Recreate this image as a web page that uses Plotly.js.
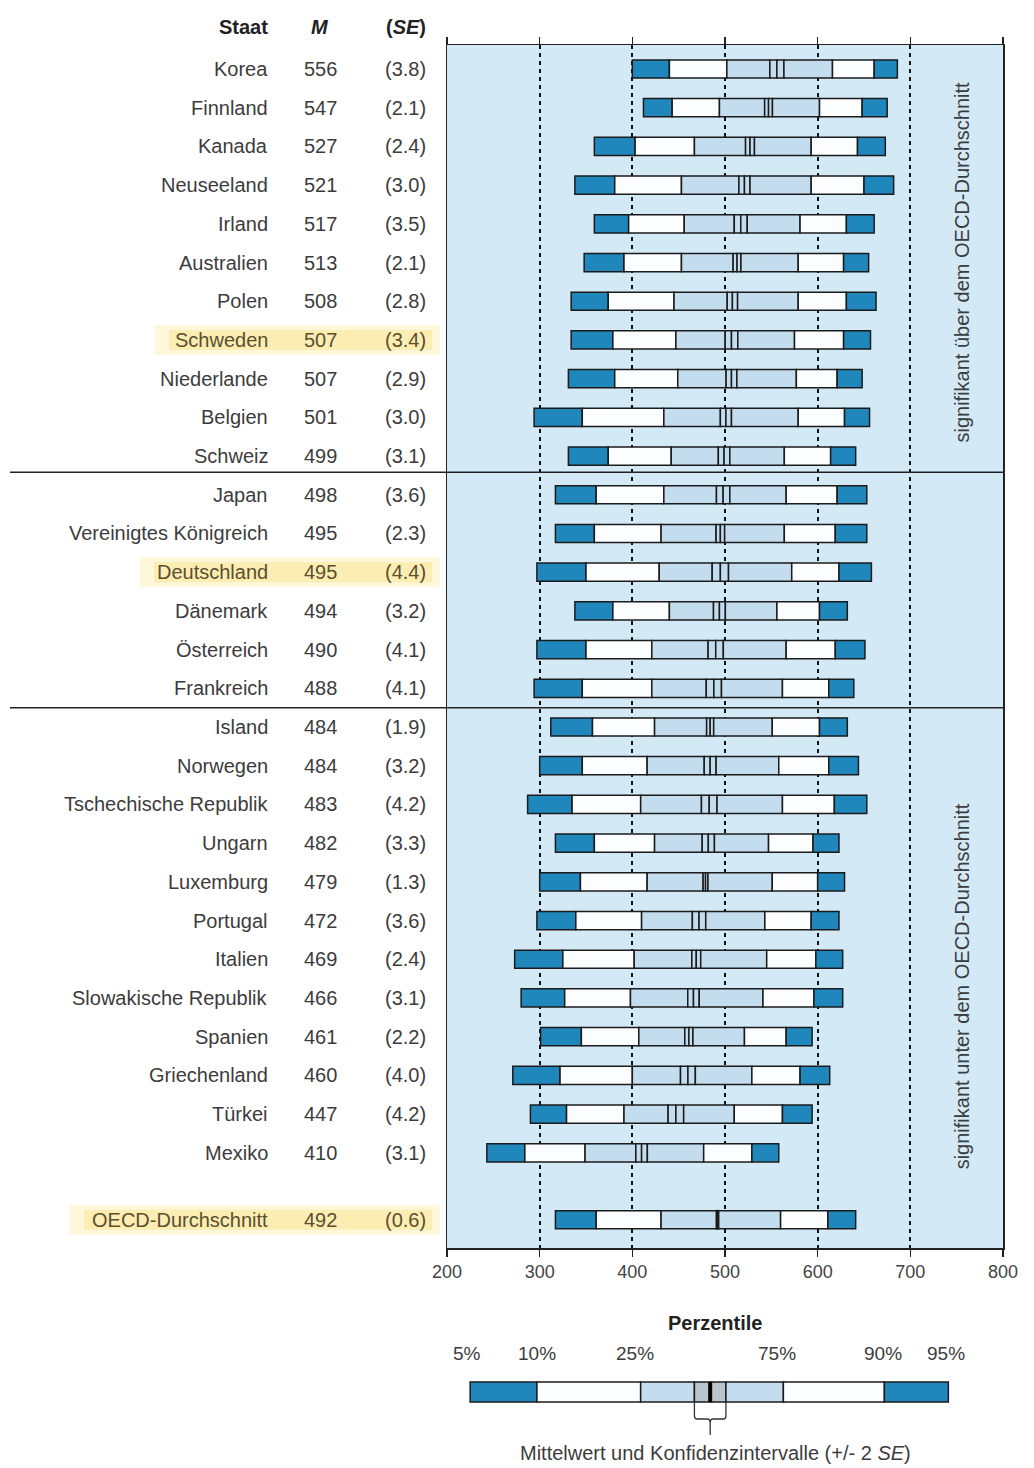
<!DOCTYPE html>
<html><head><meta charset="utf-8">
<script src="https://cdn.plot.ly/plotly-3.0.1.min.js"></script>
<style>body{margin:0;background:#fff}#chart{width:1034px;height:1468px}</style>
</head><body><div id="chart"></div>
<script>
const countries = ["Korea","Finnland","Kanada","Neuseeland","Irland","Australien","Polen","Schweden","Niederlande","Belgien","Schweiz","Japan","Vereinigtes Königreich","Deutschland","Dänemark","Österreich","Frankreich","Island","Norwegen","Tschechische Republik","Ungarn","Luxemburg","Portugal","Italien","Slowakische Republik","Spanien","Griechenland","Türkei","Mexiko","OECD-Durchschnitt"];
const meanM = [556,547,527,521,517,513,508,507,507,501,499,498,495,495,494,490,488,484,484,483,482,479,472,469,466,461,460,447,410,492];
const seM  = [3.8,2.1,2.4,3.0,3.5,2.1,2.8,3.4,2.9,3.0,3.1,3.6,2.3,4.4,3.2,4.1,4.1,1.9,3.2,4.2,3.3,1.3,3.6,2.4,3.1,2.2,4.0,4.2,3.1,0.6];
const p5  = [400,412,359,338,359,348,334,334,331,294,331,317,317,297,338,297,294,312,300,287,317,300,297,273,280,301,271,290,243,317];
const p10 = [440,443,403,381,396,391,374,379,381,346,374,361,359,350,379,350,346,357,346,335,359,344,339,325,327,345,322,329,284,361];
const p25 = [502,494,467,453,456,453,445,447,449,434,442,434,431,429,440,421,421,424,416,409,424,416,410,402,398,407,400,391,349,431];
const p75 = [616,602,593,593,581,579,579,575,577,579,564,566,564,572,556,566,562,551,558,562,547,551,543,545,541,521,529,510,477,560];
const p90 = [661,648,643,650,631,628,631,628,621,629,614,621,619,623,602,619,612,602,612,618,595,600,593,598,596,566,581,562,529,611];
const p95 = [686,675,673,682,661,655,663,657,648,656,641,653,653,658,632,651,639,632,644,653,623,629,623,627,627,594,613,594,558,641];
const highlighted = ["Schweden","Deutschland","OECD-Durchschnitt"];
const xTicks = [200,300,400,500,600,700,800];
// legend schematic (score scale positions)
const legendBounds = [225,297,409,467,484,501,563,672,741];
const legendLabels = ["5%","10%","25%","75%","90%","95%"];
const legendLabelAt = [222,297,403,556,670,738];

const W=1034,H=1468;
const rowY = countries.map((c,i)=> i<29 ? i : 29.73);
const ciLo = meanM.map((m,i)=>m-2*seM[i]);
const ciHi = meanM.map((m,i)=>m+2*seM[i]);
const DARK='#1f87bb', LIGHT='#c3dcee', WHITE='#fbfdff', CI='#c3dcee', LINE='#1b1b1b';
const segs = [
  [p5,p10,DARK],[p10,p25,WHITE],[p25,ciLo,LIGHT],[ciLo,meanM,CI],[meanM,ciHi,CI],[ciHi,p75,LIGHT],[p75,p90,WHITE],[p90,p95,DARK]
];
const traces = segs.map(([a,b,col])=>({
  type:'bar', orientation:'h', y:rowY, base:a, x:b.map((v,i)=>v-a[i]),
  width:0.47, marker:{color:col,line:{color:LINE,width:1.5}}, hoverinfo:'skip', showlegend:false
}));

const py = v => 1 - v/H;
const shapes = [];
const annotations = [];
// highlight glows
countries.forEach((c,i)=>{
  if(highlighted.includes(c)){
    const left = c==="OECD-Durchschnitt" ? 70 : (c==="Deutschland"?140:155);
    shapes.push({type:'rect',xref:'paper',yref:'y',x0:left/W,x1:440/W,y0:rowY[i]-0.38,y1:rowY[i]+0.38,fillcolor:'rgba(252,238,170,0.45)',line:{width:0},layer:'below'});
    shapes.push({type:'rect',xref:'paper',yref:'y',x0:(left+14)/W,x1:432/W,y0:rowY[i]-0.26,y1:rowY[i]+0.26,fillcolor:'rgba(250,228,140,0.5)',line:{width:0},layer:'below'});
  }
});
// separators
[10.42,16.5].forEach(y=>shapes.push({type:'line',xref:'paper',yref:'y',x0:10/W,x1:1003/W,y0:y,y1:y,line:{color:'#222',width:1.5}}));

const FAM = 'Liberation Sans, Arial, sans-serif';
const fontBase = {family:FAM, size:20, color:'#3c3c3c'};
const hiColor = '#5a5030';
countries.forEach((c,i)=>{
  const col = highlighted.includes(c)?hiColor:'#3c3c3c';
  annotations.push({xref:'paper',yref:'y',x:270/W,y:rowY[i],text:c,showarrow:false,xanchor:'right',yanchor:'middle',font:{...fontBase,color:col}});
  annotations.push({xref:'paper',yref:'y',x:320/W,y:rowY[i],text:String(meanM[i]),showarrow:false,xanchor:'center',yanchor:'middle',font:{...fontBase,color:col}});
  annotations.push({xref:'paper',yref:'y',x:428/W,y:rowY[i],text:'('+seM[i].toFixed(1)+')',showarrow:false,xanchor:'right',yanchor:'middle',font:{...fontBase,color:col}});
});
// header
annotations.push({xref:'paper',yref:'paper',x:270/W,y:py(27),text:'<b>Staat</b>',showarrow:false,xanchor:'right',yanchor:'middle',font:{...fontBase,color:'#222'}});
annotations.push({xref:'paper',yref:'paper',x:320/W,y:py(27),text:'<b><i>M</i></b>',showarrow:false,xanchor:'center',yanchor:'middle',font:{...fontBase,color:'#222'}});
annotations.push({xref:'paper',yref:'paper',x:428/W,y:py(27),text:'<b>(<i>SE</i>)</b>',showarrow:false,xanchor:'right',yanchor:'middle',font:{...fontBase,color:'#222'}});
// side notes
annotations.push({xref:'paper',yref:'y',x:962/W,y:5,text:'signifikant über dem OECD-Durchschnitt',textangle:-90,showarrow:false,xanchor:'center',yanchor:'middle',font:{...fontBase,size:20}});
annotations.push({xref:'paper',yref:'y',x:962/W,y:23.7,text:'signifikant unter dem OECD-Durchschnitt',textangle:-90,showarrow:false,xanchor:'center',yanchor:'middle',font:{...fontBase,size:20}});

// legend schematic
const lb = legendBounds;
const legCols = [DARK,WHITE,LIGHT,'#b9c4cc','#b9c4cc',LIGHT,WHITE,DARK];
const ly0 = py(1402), ly1 = py(1382);
for(let k=0;k<8;k++){
  shapes.push({type:'rect',xref:'x',yref:'paper',x0:lb[k],x1:lb[k+1],y0:ly0,y1:ly1,fillcolor:legCols[k],line:{color:LINE,width:1.5}});
}
shapes.push({type:'line',xref:'x',yref:'paper',x0:lb[4],x1:lb[4],y0:ly0,y1:ly1,line:{color:'#000',width:4}});
// bracket
shapes.push({type:'path',xref:'x',yref:'paper',
  path:`M ${lb[3]},${py(1403)} L ${lb[3]},${py(1416)} Q ${lb[3]},${py(1419)} ${lb[3]+3},${py(1419)} L ${lb[4]-3},${py(1419)} Q ${lb[4]},${py(1419)} ${lb[4]},${py(1423)} Q ${lb[4]},${py(1419)} ${lb[4]+3},${py(1419)} L ${lb[5]-3},${py(1419)} Q ${lb[5]},${py(1419)} ${lb[5]},${py(1416)} L ${lb[5]},${py(1403)}`,line:{color:'#333',width:1.3}});
shapes.push({type:'line',xref:'x',yref:'paper',x0:lb[4],x1:lb[4],y0:py(1423),y1:py(1435),line:{color:'#333',width:1.3}});
legendLabels.forEach((t,k)=>annotations.push({xref:'x',yref:'paper',x:legendLabelAt[k],y:py(1353),text:t,showarrow:false,xanchor:'center',yanchor:'middle',font:{...fontBase,size:19}}));
annotations.push({xref:'paper',yref:'paper',x:715/W,y:py(1323),text:'<b>Perzentile</b>',showarrow:false,xanchor:'center',yanchor:'middle',font:{...fontBase,color:'#222'}});
annotations.push({xref:'paper',yref:'paper',x:715/W,y:py(1453),text:'Mittelwert und Konfidenzintervalle (+/- 2 <i>SE</i>)',showarrow:false,xanchor:'center',yanchor:'middle',font:{...fontBase,size:20}});

const layout = {
  width:W,height:H,margin:{l:0,r:0,t:0,b:0},paper_bgcolor:'#ffffff',plot_bgcolor:'#d3e9f6',
  barmode:'overlay',showlegend:false,
  xaxis:{domain:[447/W,1003/W],range:[200,800],tickvals:xTicks,ticktext:xTicks.map(String),
    showline:true,linecolor:'#222',linewidth:1.5,mirror:'ticks',ticks:'outside',ticklen:7,tickwidth:1.5,tickcolor:'#222',
    showgrid:true,gridcolor:'#111',gridwidth:2,griddash:'4px,4px',zeroline:false,
    tickfont:{family:FAM,size:18,color:'#444'},fixedrange:true},
  yaxis:{domain:[1-1248/H,1-45/H],range:[30.46,-0.62],showline:true,linecolor:'#222',linewidth:1.5,mirror:true,
    showticklabels:false,ticks:'',showgrid:false,zeroline:false,fixedrange:true},
  shapes:shapes,annotations:annotations
};
Plotly.newPlot('chart',traces,layout,{staticPlot:true});
</script></body></html>
